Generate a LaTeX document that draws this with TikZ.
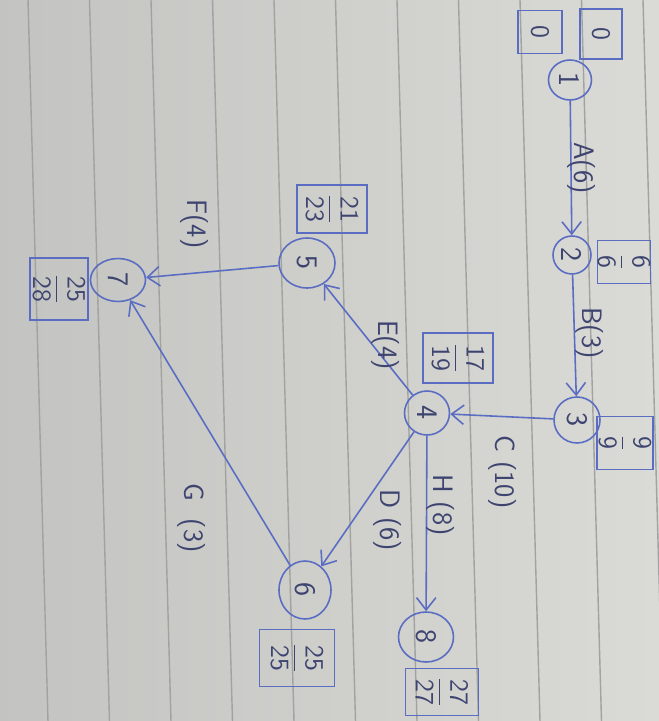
\documentclass[tikz,border=0pt]{standalone}
\usetikzlibrary{arrows.meta,shapes.geometric}
\definecolor{paper}{HTML}{DADAD6}
\definecolor{paperdark}{HTML}{C3C4C1}
\definecolor{ruleline}{HTML}{A2A3A1}
\definecolor{ink}{HTML}{5A6DC2}
\definecolor{pen}{HTML}{3E4470}
\begin{document}
\begin{tikzpicture}[x=0.02cm,y=-0.02cm,
  circ/.style={ellipse, draw=ink, line width=0.9pt, inner sep=0pt, rotate=-90, text=pen,
    font=\sffamily\fontsize{17}{19}\selectfont},
  fbox/.style={rectangle, draw=ink, line width=1pt, inner sep=0pt, rotate=-90, text=pen,
    font=\sffamily\fontsize{15}{17}\selectfont},
  lbl/.style={text=pen, font=\sffamily\fontsize{16}{18}\selectfont, rotate=-90, inner sep=0pt},
  edge/.style={draw=ink, line width=0.9pt, -{Straight Barb[length=7pt,width=11pt]}}]
\shade[left color=paperdark, right color=paper] (0,0) rectangle (659,721);
\useasboundingbox (0,0) rectangle (659,721);
\foreach \x in {28,89.5,151,212.5,274,335.5,397,458.5,520,581.5,643}
  \draw[ruleline, line width=0.8pt] (\x,0) -- ({\x+20},721);

% event nodes
\node[circ, minimum width=0.80cm, minimum height=0.86cm] (n1) at (570,80) {1};
\node[circ, minimum width=0.76cm, minimum height=0.76cm] (n2) at (572,255) {2};
\node[circ, minimum width=0.92cm, minimum height=0.92cm] (n3) at (577,420) {3};
\node[circ, minimum width=0.88cm, minimum height=0.90cm] (n4) at (427,413) {4};
\node[circ, minimum width=1.00cm, minimum height=1.12cm] (n5) at (307,263) {5};
\node[circ, minimum width=1.16cm, minimum height=1.04cm] (n6) at (305,590) {6};
\node[circ, minimum width=0.86cm, minimum height=1.10cm] (n7) at (118,280) {7};
\node[circ, minimum width=1.00cm, minimum height=1.10cm] (n8) at (426,637) {8};

% time boxes
\node[fbox, minimum width=0.86cm, minimum height=0.88cm] (b1a) at (540,32) {0};
\node[fbox, minimum width=1.00cm, minimum height=0.84cm] (b1b) at (601,34) {0};
\node[fbox, minimum width=0.86cm, minimum height=0.96cm] (b2) at (624,262) {$\displaystyle\frac{\textsf{6}}{\textsf{6}}$};
\node[fbox, minimum width=1.06cm, minimum height=1.12cm] (b3) at (625,443) {$\displaystyle\frac{\textsf{9}}{\textsf{9}}$};
\node[fbox, minimum width=1.00cm, minimum height=1.40cm] (b4) at (458,358) {$\displaystyle\frac{\textsf{17}}{\textsf{19}}$};
\node[fbox, minimum width=0.96cm, minimum height=1.40cm] (b5) at (332,209) {$\displaystyle\frac{\textsf{21}}{\textsf{23}}$};
\node[fbox, minimum width=1.14cm, minimum height=1.50cm] (b6) at (297,658) {$\displaystyle\frac{\textsf{25}}{\textsf{25}}$};
\node[fbox, minimum width=1.24cm, minimum height=1.16cm] (b7) at (59,289) {$\displaystyle\frac{\textsf{25}}{\textsf{28}}$};
\node[fbox, minimum width=0.94cm, minimum height=1.46cm] (b8) at (442,692) {$\displaystyle\frac{\textsf{27}}{\textsf{27}}$};

% activities
\draw[edge] (n1) -- (n2);
\draw[edge] (n2) -- (n3);
\draw[edge] (n3) -- (n4);
\draw[edge] (n4) -- (n5);
\draw[edge] (n5) -- (n7);
\draw[edge] (n4) -- (n6);
\draw[edge] (n6) -- (n7);
\draw[edge] (n4) -- (n8);

% activity labels
\node[lbl] (lA) at (582,168) {A(6)};
\node[lbl] (lB) at (590,333) {B(3)};
\node[lbl] (lC) at (503,472) {C (10)};
\node[lbl] (lH) at (441,505) {H (8)};
\node[lbl] (lD) at (388,520) {D (6)};
\node[lbl] (lE) at (386,345) {E(4)};
\node[lbl] (lF) at (195,224) {F(4)};
\node[lbl] (lG) at (192,518) {G\ \ (3)};
\end{tikzpicture}
\end{document}
